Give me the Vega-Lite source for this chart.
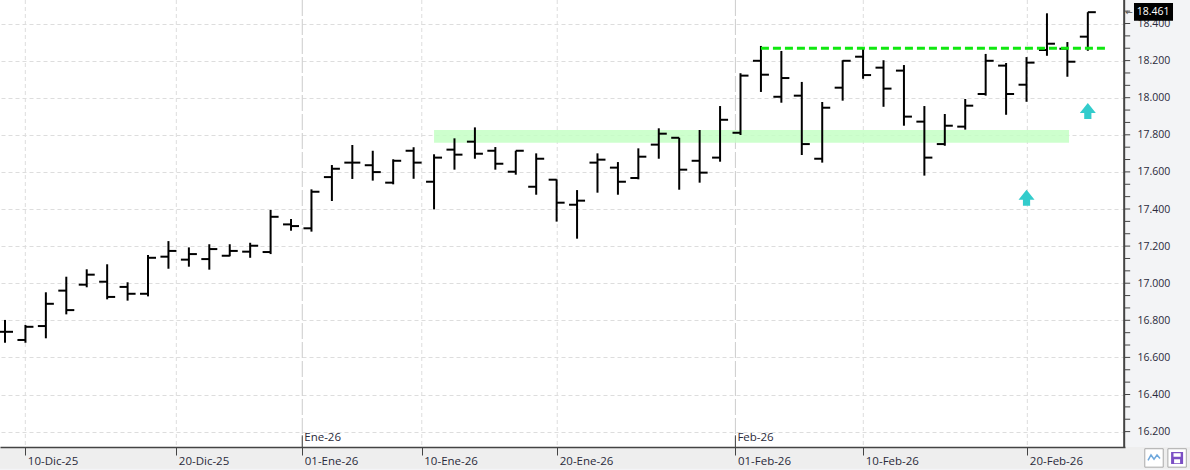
{
  "$schema": "https://vega.github.io/schema/vega-lite/v6.json",
  "width": 1125,
  "height": 447,
  "autosize": {"type": "none"},
  "padding": {"left": 0, "top": 0, "right": 65, "bottom": 23},
  "background": "#f3f4f6",
  "view": {"fill": "white", "stroke": null},
  "config": {
    "font": "Open Sans",
    "axis": {"title": null}
  },
  "datasets": {
    "barras": [
      {"bar": 0, "o": 16.738, "h": 16.802, "l": 16.679, "c": 16.738},
      {"bar": 1, "o": 16.694, "h": 16.775, "l": 16.679, "c": 16.765},
      {"bar": 2, "o": 16.769, "h": 16.951, "l": 16.703, "c": 16.889},
      {"bar": 3, "o": 16.96, "h": 17.035, "l": 16.832, "c": 16.855},
      {"bar": 4, "o": 16.992, "h": 17.075, "l": 16.978, "c": 17.046},
      {"bar": 5, "o": 17.008, "h": 17.102, "l": 16.913, "c": 16.926},
      {"bar": 6, "o": 16.98, "h": 17.005, "l": 16.906, "c": 16.943},
      {"bar": 7, "o": 16.943, "h": 17.152, "l": 16.929, "c": 17.137},
      {"bar": 8, "o": 17.143, "h": 17.227, "l": 17.078, "c": 17.174},
      {"bar": 9, "o": 17.127, "h": 17.193, "l": 17.089, "c": 17.157},
      {"bar": 10, "o": 17.13, "h": 17.21, "l": 17.073, "c": 17.184},
      {"bar": 11, "o": 17.148, "h": 17.21, "l": 17.145, "c": 17.174},
      {"bar": 12, "o": 17.17, "h": 17.218, "l": 17.137, "c": 17.202},
      {"bar": 13, "o": 17.168, "h": 17.395, "l": 17.157, "c": 17.358},
      {"bar": 14, "o": 17.317, "h": 17.346, "l": 17.283, "c": 17.308},
      {"bar": 15, "o": 17.296, "h": 17.506, "l": 17.278, "c": 17.493},
      {"bar": 16, "o": 17.572, "h": 17.637, "l": 17.443, "c": 17.617},
      {"bar": 17, "o": 17.65, "h": 17.745, "l": 17.562, "c": 17.65},
      {"bar": 18, "o": 17.636, "h": 17.714, "l": 17.553, "c": 17.599},
      {"bar": 19, "o": 17.542, "h": 17.668, "l": 17.533, "c": 17.66},
      {"bar": 20, "o": 17.714, "h": 17.733, "l": 17.563, "c": 17.65},
      {"bar": 21, "o": 17.547, "h": 17.695, "l": 17.398, "c": 17.677},
      {"bar": 22, "o": 17.72, "h": 17.781, "l": 17.612, "c": 17.693},
      {"bar": 23, "o": 17.763, "h": 17.84, "l": 17.671, "c": 17.698},
      {"bar": 24, "o": 17.714, "h": 17.734, "l": 17.612, "c": 17.644},
      {"bar": 25, "o": 17.601, "h": 17.714, "l": 17.585, "c": 17.714},
      {"bar": 26, "o": 17.52, "h": 17.7, "l": 17.477, "c": 17.671},
      {"bar": 27, "o": 17.558, "h": 17.56, "l": 17.332, "c": 17.434},
      {"bar": 28, "o": 17.423, "h": 17.502, "l": 17.24, "c": 17.445},
      {"bar": 29, "o": 17.65, "h": 17.7, "l": 17.488, "c": 17.666},
      {"bar": 30, "o": 17.623, "h": 17.653, "l": 17.477, "c": 17.547},
      {"bar": 31, "o": 17.567, "h": 17.727, "l": 17.56, "c": 17.682},
      {"bar": 32, "o": 17.747, "h": 17.835, "l": 17.671, "c": 17.806},
      {"bar": 33, "o": 17.784, "h": 17.784, "l": 17.504, "c": 17.612},
      {"bar": 34, "o": 17.66, "h": 17.826, "l": 17.542, "c": 17.596},
      {"bar": 35, "o": 17.677, "h": 17.955, "l": 17.655, "c": 17.881},
      {"bar": 36, "o": 17.811, "h": 18.132, "l": 17.799, "c": 18.119},
      {"bar": 37, "o": 18.199, "h": 18.279, "l": 18.031, "c": 18.124},
      {"bar": 38, "o": 18.005, "h": 18.252, "l": 17.973, "c": 18.106},
      {"bar": 39, "o": 18.011, "h": 18.085, "l": 17.691, "c": 17.75},
      {"bar": 40, "o": 17.671, "h": 17.977, "l": 17.65, "c": 17.946},
      {"bar": 41, "o": 18.054, "h": 18.202, "l": 17.984, "c": 18.199},
      {"bar": 42, "o": 18.221, "h": 18.266, "l": 18.102, "c": 18.122},
      {"bar": 43, "o": 18.162, "h": 18.202, "l": 17.951, "c": 18.049},
      {"bar": 44, "o": 18.146, "h": 18.176, "l": 17.849, "c": 17.898},
      {"bar": 45, "o": 17.871, "h": 17.955, "l": 17.58, "c": 17.677},
      {"bar": 46, "o": 17.75, "h": 17.912, "l": 17.741, "c": 17.849},
      {"bar": 47, "o": 17.844, "h": 17.993, "l": 17.828, "c": 17.957},
      {"bar": 48, "o": 18.02, "h": 18.236, "l": 18.011, "c": 18.199},
      {"bar": 49, "o": 18.173, "h": 18.187, "l": 17.908, "c": 18.02},
      {"bar": 50, "o": 18.07, "h": 18.219, "l": 17.978, "c": 18.189},
      {"bar": 51, "o": 18.257, "h": 18.455, "l": 18.226, "c": 18.291},
      {"bar": 52, "o": 18.264, "h": 18.3, "l": 18.113, "c": 18.194},
      {"bar": 53, "o": 18.329, "h": 18.461, "l": 18.253, "c": 18.461}
    ],
    "flechas": [
      {"bar": 50, "price": 17.461},
      {"bar": 53, "price": 17.928}
    ],
    "cortes": [
      {"bar": 0.994},
      {"bar": 8.385},
      {"bar": 20.4},
      {"bar": 27.03},
      {"bar": 42.01},
      {"bar": 50.04}
    ],
    "meses": [
      {"bar": 14.55, "label": "Ene-26"},
      {"bar": 35.75, "label": "Feb-26"}
    ],
    "marcas": [
      {"bar": 54.78, "price": 16.2}, {"bar": 54.78, "price": 16.2667}, {"bar": 54.78, "price": 16.3333},
      {"bar": 54.78, "price": 16.4}, {"bar": 54.78, "price": 16.4667}, {"bar": 54.78, "price": 16.5333},
      {"bar": 54.78, "price": 16.6}, {"bar": 54.78, "price": 16.6667}, {"bar": 54.78, "price": 16.7333},
      {"bar": 54.78, "price": 16.8}, {"bar": 54.78, "price": 16.8667}, {"bar": 54.78, "price": 16.9333},
      {"bar": 54.78, "price": 17.0}, {"bar": 54.78, "price": 17.0667}, {"bar": 54.78, "price": 17.1333},
      {"bar": 54.78, "price": 17.2}, {"bar": 54.78, "price": 17.2667}, {"bar": 54.78, "price": 17.3333},
      {"bar": 54.78, "price": 17.4}, {"bar": 54.78, "price": 17.4667}, {"bar": 54.78, "price": 17.5333},
      {"bar": 54.78, "price": 17.6}, {"bar": 54.78, "price": 17.6667}, {"bar": 54.78, "price": 17.7333},
      {"bar": 54.78, "price": 17.8}, {"bar": 54.78, "price": 17.8667}, {"bar": 54.78, "price": 17.9333},
      {"bar": 54.78, "price": 18.0}, {"bar": 54.78, "price": 18.0667}, {"bar": 54.78, "price": 18.1333},
      {"bar": 54.78, "price": 18.2}, {"bar": 54.78, "price": 18.2667}, {"bar": 54.78, "price": 18.3333},
      {"bar": 54.78, "price": 18.4}, {"bar": 54.78, "price": 18.4667}
    ]
  },
  "layer": [
    {
      "data": {"values": [{"x0": -0.245, "x1": 58.01, "y0": 16.117, "y1": 16.0}]},
      "mark": {"type": "rect", "color": "#eeeeee"},
      "encoding": {
        "x": {
          "field": "x0",
          "type": "quantitative",
          "scale": {"domain": [-0.245, 54.82]},
          "axis": {
            "orient": "bottom",
            "values": [0.994, 8.385, 14.55, 20.4, 27.03, 35.75, 42.01, 50.04],
            "labelExpr": "{'0.994':'10-Dic-25','8.385':'20-Dic-25','14.55':'01-Ene-26','20.4':'10-Ene-26','27.03':'20-Ene-26','35.75':'01-Feb-26','42.01':'10-Feb-26','50.04':'20-Feb-26'}[datum.value]",
            "labelAlign": "left",
            "labelBaseline": "top",
            "labelOffset": 2,
            "labelPadding": 0,
            "labelFlush": false,
            "labelOverlap": false,
            "labelBound": false,
            "labelFontSize": 11.5,
            "labelColor": "#2a2a3a",
            "tickSize": 8,
            "tickColor": "#444444",
            "domainColor": "#444444",
            "domainWidth": 1.5,
            "grid": false,
            "zindex": 1
          }
        },
        "x2": {"field": "x1"},
        "y": {
          "field": "y0",
          "type": "quantitative",
          "scale": {"domain": [16.117, 18.5267]},
          "axis": {
            "orient": "right",
            "tickCount": 20,
            "values": [16.2, 16.4, 16.6, 16.8, 17, 17.2, 17.4, 17.6, 17.8, 18, 18.2, 18.4],
            "format": ".3f",
            "labelFlush": false,
            "labelOverlap": false,
            "labelBound": false,
            "labelFontSize": 10.5,
            "labelColor": "#2a2a3a",
            "labelPadding": 12,
            "domain": false,
            "ticks": false,
            "grid": true,
            "gridColor": "#dddddd",
            "gridDash": [4, 3],
            "zindex": 0
          }
        },
        "y2": {"field": "y1"}
      }
    },
    {
      "data": {"name": "cortes"},
      "mark": {"type": "rule", "color": "#dddddd", "strokeDash": [4, 3]},
      "encoding": {
        "x": {"field": "bar", "type": "quantitative", "scale": {"domain": [-0.245, 54.82]}}
      }
    },
    {
      "data": {"name": "meses"},
      "mark": {"type": "rule", "color": "#cccccc", "strokeDash": [16, 3]},
      "encoding": {
        "x": {"field": "bar", "type": "quantitative", "scale": {"domain": [-0.245, 54.82]}}
      }
    },
    {
      "data": {"values": [{"desde": 21, "hasta": 52.08, "sup": 17.826, "inf": 17.757}]},
      "mark": {"type": "rect", "color": "#c4ffc4", "opacity": 0.85},
      "encoding": {
        "x": {"field": "desde", "type": "quantitative", "scale": {"domain": [-0.245, 54.82]}},
        "x2": {"field": "hasta"},
        "y": {"field": "sup", "type": "quantitative", "scale": {"domain": [16.117, 18.5267]}},
        "y2": {"field": "inf"}
      }
    },
    {
      "data": {"values": [{"bar": 54.78, "sup": 18.5267, "inf": 16.117}]},
      "mark": {"type": "rule", "color": "#444444", "strokeWidth": 2},
      "encoding": {
        "x": {"field": "bar", "type": "quantitative", "scale": {"domain": [-0.245, 54.82]}},
        "y": {"field": "sup", "type": "quantitative", "scale": {"domain": [16.117, 18.5267]}},
        "y2": {"field": "inf"}
      }
    },
    {
      "data": {"name": "marcas"},
      "mark": {"type": "rule", "color": "#444444", "strokeWidth": 1, "x2Offset": 6},
      "encoding": {
        "x": {"field": "bar", "type": "quantitative", "scale": {"domain": [-0.245, 54.82]}},
        "x2": {"field": "bar"},
        "y": {"field": "price", "type": "quantitative", "scale": {"domain": [16.117, 18.5267]}}
      }
    },
    {
      "data": {"name": "barras"},
      "mark": {"type": "rule", "color": "black", "strokeWidth": 2},
      "encoding": {
        "x": {"field": "bar", "type": "quantitative", "scale": {"domain": [-0.245, 54.82]}},
        "y": {"field": "h", "type": "quantitative", "scale": {"domain": [16.117, 18.5267]}},
        "y2": {"field": "l"}
      }
    },
    {
      "data": {"name": "barras"},
      "mark": {"type": "rule", "color": "black", "strokeWidth": 2, "xOffset": -8},
      "encoding": {
        "x": {"field": "bar", "type": "quantitative", "scale": {"domain": [-0.245, 54.82]}},
        "x2": {"field": "bar"},
        "y": {"field": "o", "type": "quantitative", "scale": {"domain": [16.117, 18.5267]}}
      }
    },
    {
      "data": {"name": "barras"},
      "mark": {"type": "rule", "color": "black", "strokeWidth": 2, "x2Offset": 8},
      "encoding": {
        "x": {"field": "bar", "type": "quantitative", "scale": {"domain": [-0.245, 54.82]}},
        "x2": {"field": "bar"},
        "y": {"field": "c", "type": "quantitative", "scale": {"domain": [16.117, 18.5267]}}
      }
    },
    {
      "data": {"values": [{"desde": 37, "hasta": 53.9, "nivel": 18.266}]},
      "mark": {"type": "rule", "color": "#10e810", "strokeWidth": 3, "strokeDash": [8, 4]},
      "encoding": {
        "x": {"field": "desde", "type": "quantitative", "scale": {"domain": [-0.245, 54.82]}},
        "x2": {"field": "hasta"},
        "y": {"field": "nivel", "type": "quantitative", "scale": {"domain": [16.117, 18.5267]}}
      }
    },
    {
      "data": {"name": "flechas"},
      "mark": {
        "type": "point",
        "shape": "M0,-1 L1,0.25 L0.45,0.25 L0.45,1 L-0.45,1 L-0.45,0.25 L-1,0.25 Z",
        "size": 256,
        "filled": true,
        "color": "#33cccc",
        "opacity": 1
      },
      "encoding": {
        "x": {"field": "bar", "type": "quantitative", "scale": {"domain": [-0.245, 54.82]}},
        "y": {"field": "price", "type": "quantitative", "scale": {"domain": [16.117, 18.5267]}}
      }
    },
    {
      "data": {"name": "meses"},
      "mark": {"type": "rule", "color": "#444444"},
      "encoding": {
        "x": {"field": "bar", "type": "quantitative", "scale": {"domain": [-0.245, 54.82]}},
        "y": {"datum": 16.18, "type": "quantitative", "scale": {"domain": [16.117, 18.5267]}},
        "y2": {"datum": 16.117}
      }
    },
    {
      "data": {"name": "meses"},
      "mark": {"type": "text", "align": "left", "baseline": "middle", "dx": 2, "fontSize": 11.5, "color": "#2a2a3a"},
      "encoding": {
        "x": {"field": "bar", "type": "quantitative", "scale": {"domain": [-0.245, 54.82]}},
        "y": {"datum": 16.1655, "type": "quantitative", "scale": {"domain": [16.117, 18.5267]}},
        "text": {"field": "label"}
      }
    },
    {
      "data": {"values": [{"x0": 55.26, "x1": 57.17, "y0": 18.51, "y1": 18.415}]},
      "mark": {"type": "rect", "color": "black"},
      "encoding": {
        "x": {"field": "x0", "type": "quantitative", "scale": {"domain": [-0.245, 54.82]}},
        "x2": {"field": "x1"},
        "y": {"field": "y0", "type": "quantitative", "scale": {"domain": [16.117, 18.5267]}},
        "y2": {"field": "y1"}
      }
    },
    {
      "data": {"values": [{"bar": 56.2, "price": 18.461, "label": "18.461"}]},
      "mark": {"type": "text", "align": "center", "baseline": "middle", "fontSize": 10.5, "color": "white"},
      "encoding": {
        "x": {"field": "bar", "type": "quantitative", "scale": {"domain": [-0.245, 54.82]}},
        "y": {"field": "price", "type": "quantitative", "scale": {"domain": [16.117, 18.5267]}},
        "text": {"field": "label"}
      }
    },
    {
      "data": {"values": [{"bar": 55.02, "price": 18.461, "label": "←"}]},
      "mark": {"type": "text", "align": "center", "baseline": "middle", "fontSize": 9, "font": "DejaVu Sans", "color": "#555555"},
      "encoding": {
        "x": {"field": "bar", "type": "quantitative", "scale": {"domain": [-0.245, 54.82]}},
        "y": {"field": "price", "type": "quantitative", "scale": {"domain": [16.117, 18.5267]}},
        "text": {"field": "label"}
      }
    },
    {
      "data": {"values": [{"bar": 56.24, "price": 16.058}, {"bar": 57.37, "price": 16.058}]},
      "mark": {"type": "square", "size": 340, "fill": "white", "stroke": "#aaaaaa", "strokeWidth": 1, "opacity": 1},
      "encoding": {
        "x": {"field": "bar", "type": "quantitative", "scale": {"domain": [-0.245, 54.82]}},
        "y": {"field": "price", "type": "quantitative", "scale": {"domain": [16.117, 18.5267]}}
      }
    },
    {
      "data": {"values": [{"bar": 56.24, "price": 16.058}]},
      "mark": {"type": "point", "shape": "M-1,0.4 L-0.5,-0.5 L0,0.2 L0.5,-0.5 L1,0.1", "size": 144, "filled": false, "stroke": "#6fa8dc", "strokeWidth": 1.5, "opacity": 1},
      "encoding": {
        "x": {"field": "bar", "type": "quantitative", "scale": {"domain": [-0.245, 54.82]}},
        "y": {"field": "price", "type": "quantitative", "scale": {"domain": [16.117, 18.5267]}}
      }
    },
    {
      "data": {"values": [{"bar": 57.37, "price": 16.058}]},
      "mark": {"type": "point", "shape": "M-1,-1 L1,-1 L1,1 L-1,1 Z M-0.6,-0.8 L-0.6,-0.2 L0.6,-0.2 L0.6,-0.8 Z M-0.5,0.2 L-0.5,0.9 L0.5,0.9 L0.5,0.2 Z", "size": 144, "filled": true, "color": "#7b4fc4", "opacity": 1},
      "encoding": {
        "x": {"field": "bar", "type": "quantitative", "scale": {"domain": [-0.245, 54.82]}},
        "y": {"field": "price", "type": "quantitative", "scale": {"domain": [16.117, 18.5267]}}
      }
    }
  ]
}
